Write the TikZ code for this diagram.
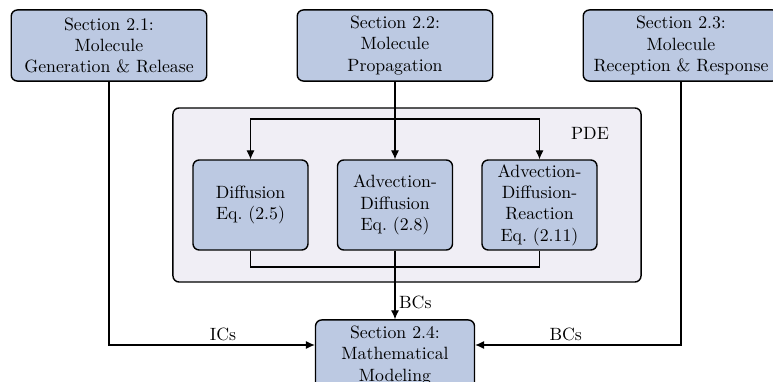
\documentclass[tikz,border=0pt]{standalone}
\usetikzlibrary{arrows.meta}
\definecolor{boxblue}{RGB}{188,201,226}
\definecolor{pdebg}{RGB}{240,238,245}
\tikzset{
  secbox/.style={draw=black, fill=boxblue, thick, rounded corners=3.5pt,
    minimum width=110pt, minimum height=40pt, align=center, inner sep=1pt},
  eqbox/.style={draw=black, fill=boxblue, thick, rounded corners=3.5pt,
    minimum width=64.7pt, minimum height=50.6pt, align=center, inner sep=1pt},
  pdebox/.style={draw=black, fill=pdebg, thick, rounded corners=3.5pt,
    minimum width=263.3pt, minimum height=97.9pt},
  conn/.style={draw=black, semithick},
  arr/.style={conn, -{Latex[length=5pt,width=4.5pt]}},
  lbl/.style={inner sep=2pt}
}
\begin{document}
\begin{tikzpicture}[x=0.5625pt, y=-0.5625pt]
  \useasboundingbox (0,0) rectangle (773,382);

  % model components
  \node[secbox] (s21) at (109,45.5) {Section 2.1:\\Molecule\\Generation \& Release};
  \node[secbox] (s22) at (395,45.5) {Section 2.2:\\Molecule\\Propagation};
  \node[secbox] (s23) at (681,45.5) {Section 2.3:\\Molecule\\Reception \& Response};

  % PDE group
  \node[pdebox] (pde) at (407,195) {};
  \node (pdelbl) at (590,133) {PDE};
  \node[eqbox] (diff) at (250.5,205) {Diffusion\\Eq.~(2.5)};
  \node[eqbox] (adv) at (395,205) {Advection-\\Diffusion\\Eq.~(2.8)};
  \node[eqbox] (adr) at (539.5,205) {Advection-\\Diffusion-\\Reaction\\Eq.~(2.11)};

  % synthesis
  \node[secbox, minimum width=89.4pt] (s24) at (395,355.5) {Section 2.4:\\Mathematical\\Modeling};

  % junction points
  \coordinate (bar) at (395,119);
  \coordinate (low) at (395,267);
  \coordinate (inrow) at (0,345);

  % propagation feeds the three PDEs
  \draw[arr] (s22.south) -- (adv.north);
  \draw[arr] (bar) -| (diff.north);
  \draw[arr] (bar) -| (adr.north);

  % PDE outputs collected
  \draw[conn] (diff.south) |- (low) -| (adr.south);
  \draw[arr] (adv.south) -- node[lbl, right, pos=0.76] {BCs} (s24.north);

  % initial and boundary conditions
  \draw[arr] (s21.south) |- node[lbl, above, pos=0.777] {ICs} (s24.west |- inrow);
  \draw[arr] (s23.south) |- node[lbl, above, pos=0.78] {BCs} (s24.east |- inrow);
\end{tikzpicture}
\end{document}
